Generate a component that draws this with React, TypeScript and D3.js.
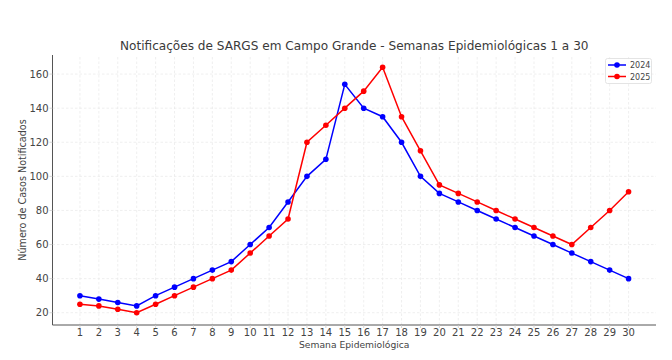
import React from 'react';
import * as d3 from 'd3';

const weeks = d3.range(1, 31);
const cases2024 = [30, 28, 26, 24, 30, 35, 40, 45, 50, 60, 70, 85, 100, 110, 154, 140, 135, 120, 100, 90, 85, 80, 75, 70, 65, 60, 55, 50, 45, 40];
const cases2025 = [25, 24, 22, 20, 25, 30, 35, 40, 45, 55, 65, 75, 120, 130, 140, 150, 164, 135, 115, 95, 90, 85, 80, 75, 70, 65, 60, 70, 80, 91];
const yTicks = [20, 40, 60, 80, 100, 120, 140, 160];

const series = [
  { name: '2024', color: '#0000ff', values: cases2024 },
  { name: '2025', color: '#ff0000', values: cases2025 },
];

const W = 672;
const H = 360;
const margin = { top: 55, right: 16, bottom: 35, left: 52.5 };
const font = 'DejaVu Sans, sans-serif';

export default function App() {
  const x = d3.scaleLinear().domain([-0.45, 31.45]).range([margin.left, W - margin.right]);
  const y = d3.scaleLinear().domain([12.8, 171.2]).range([H - margin.bottom, margin.top]);

  const line = d3.line<number>()
    .x((d, i) => x(weeks[i]))
    .y(d => y(d));

  const x0 = margin.left;
  const x1 = W - margin.right;
  const y0 = H - margin.bottom;
  const y1 = margin.top;

  return (
    <svg width={W} height={H} style={{ position: 'absolute', left: 0, top: 0 }} fontFamily={font}>
      <rect width={W} height={H} fill="#fff" />
      {/* grid */}
      {weeks.map(w => (
        <line key={'gx' + w} x1={x(w)} x2={x(w)} y1={y0} y2={y1} stroke="#e8e8e8" strokeWidth={0.7} strokeDasharray="2.5,2" />
      ))}
      {yTicks.map(t => (
        <line key={'gy' + t} x1={x0} x2={x1} y1={y(t)} y2={y(t)} stroke="#e8e8e8" strokeWidth={0.7} strokeDasharray="2.5,2" />
      ))}
      {/* spines */}
      <line x1={x0} x2={x0} y1={y0} y2={y1} stroke="#555" strokeWidth={1} />
      <line x1={x0} x2={x1} y1={y0} y2={y0} stroke="#555" strokeWidth={1} />
      {/* ticks */}
      {weeks.map(w => (
        <g key={'tx' + w}>
          <line x1={x(w)} x2={x(w)} y1={y0} y2={y0 + 3} stroke="#ccc" strokeWidth={0.8} />
          <text x={x(w)} y={y0 + 11} fontSize={10} fill="#444" textAnchor="middle">{w}</text>
        </g>
      ))}
      {yTicks.map(t => (
        <g key={'ty' + t}>
          <line x1={x0 - 3} x2={x0} y1={y(t)} y2={y(t)} stroke="#ccc" strokeWidth={0.8} />
          <text x={x0 - 4} y={y(t) + 3.5} fontSize={10} fill="#444" textAnchor="end">{t}</text>
        </g>
      ))}
      {/* labels */}
      <text x={(x0 + x1) / 2} y={348} fontSize={9.2} fill="#444" textAnchor="middle">Semana Epidemiológica</text>
      <text transform={`translate(26,${(y0 + y1) / 2}) rotate(-90)`} fontSize={9.6} fill="#444" textAnchor="middle">Número de Casos Notificados</text>
      <text x={(x0 + x1) / 2} y={50} fontSize={12.1} fill="#3a3a3a" textAnchor="middle">Notificações de SARGS em Campo Grande - Semanas Epidemiológicas 1 a 30</text>
      {/* series */}
      {series.map(s => (
        <g key={s.name}>
          <path d={line(s.values) || ''} fill="none" stroke={s.color} strokeWidth={1.5} />
          {s.values.map((v, i) => (
            <circle key={i} cx={x(weeks[i])} cy={y(v)} r={2.8} fill={s.color} />
          ))}
        </g>
      ))}
      {/* legend */}
      <rect x={605.5} y={58.5} width={46} height={25} rx={2} fill="#fff" fillOpacity={0.8} stroke="#ddd" strokeWidth={0.8} />
      {series.map((s, i) => (
        <g key={'lg' + s.name} transform={`translate(0,${65 + i * 11.5})`}>
          <line x1={608} x2={626} y1={0} y2={0} stroke={s.color} strokeWidth={1.5} />
          <circle cx={617} cy={0} r={2.8} fill={s.color} />
          <text x={630} y={3} fontSize={8} fill="#444">{s.name}</text>
        </g>
      ))}
    </svg>
  );
}
